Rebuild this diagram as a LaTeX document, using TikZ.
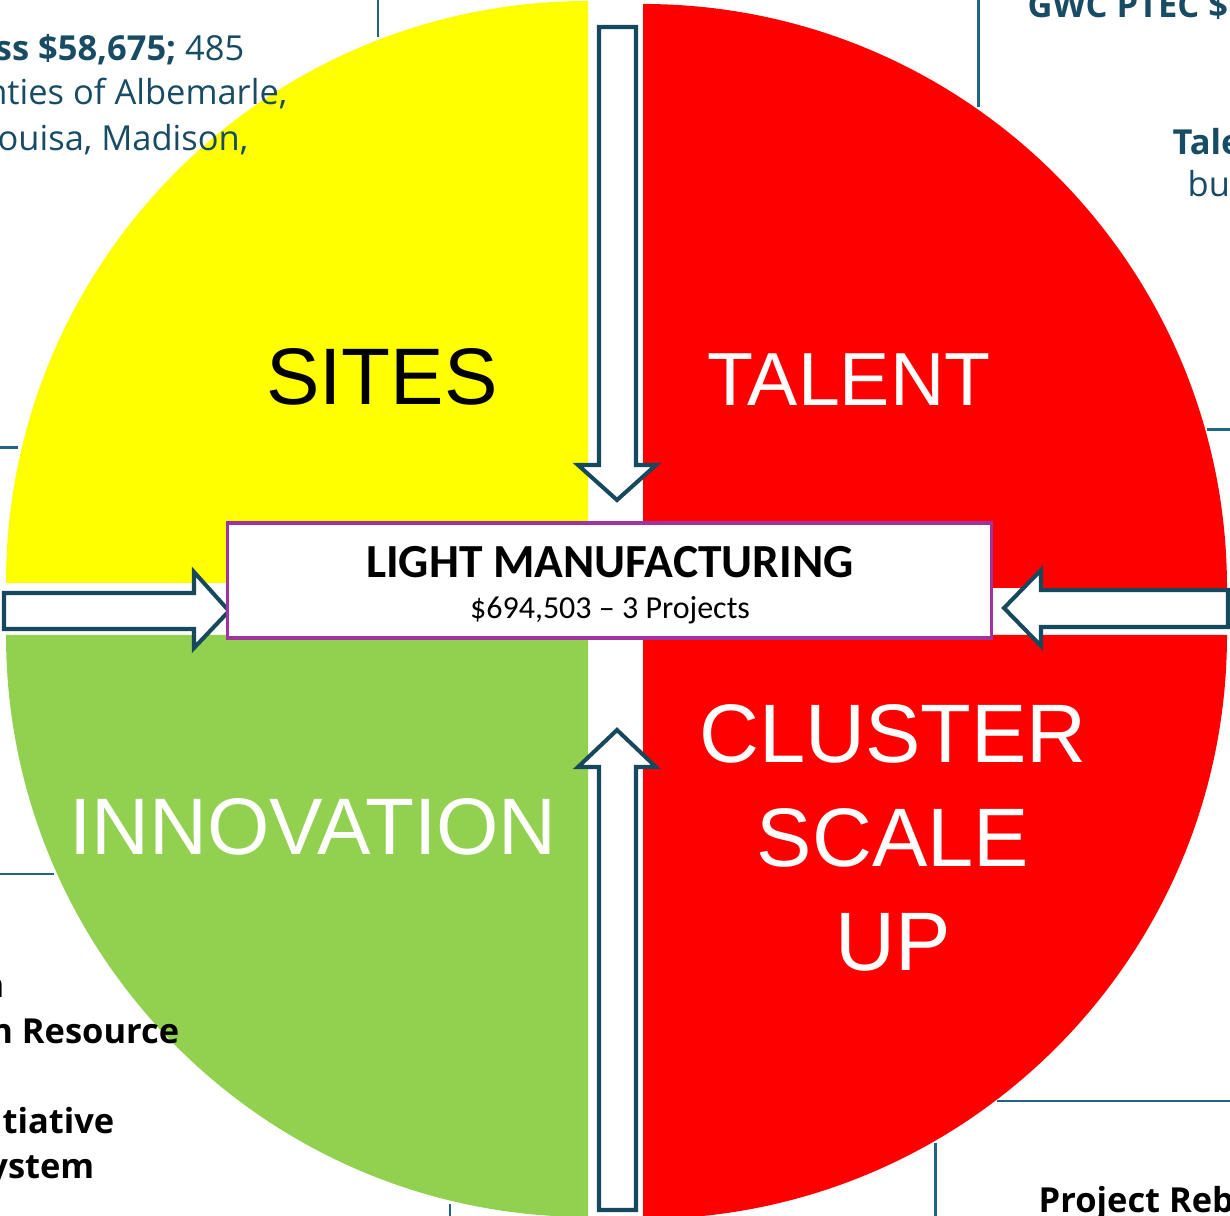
\documentclass[tikz,border=0pt]{standalone}
\usepackage{fontspec}
\setmainfont{Liberation Sans}
\newfontfamily\boxfont{Carlito}
\newfontfamily\slidefont{Open Sans}
\definecolor{sitesc}{RGB}{255,255,0}
\definecolor{talentc}{RGB}{255,0,0}
\definecolor{innovc}{RGB}{146,208,80}
\definecolor{arrowc}{RGB}{22,72,94}
\definecolor{framec}{RGB}{160,52,158}
\definecolor{linec}{RGB}{31,99,133}
\definecolor{slidec}{RGB}{24,75,100}
\tikzset{
    quad/.style={font=\fontsize{22.8}{29.6}\selectfont, align=center, inner sep=0pt},
    blockarrow/.style={draw=arrowc, fill=white, line width=1.15pt, miter limit=10},
    slidetext/.style={font=\slidefont\fontsize{9.8}{12}\selectfont, inner sep=0pt},
    slideline/.style={draw=linec, line width=0.85pt}
}

\begin{document}
\begin{tikzpicture}[x=0.01cm, y=-0.01cm]
        \useasboundingbox (0,0) rectangle (1230,1216);
        \clip (0,0) rectangle (1230,1216);

        \draw[slideline] (378,0) -- (378,37);
        \draw[slideline] (978,0) -- (978,107);
        \draw[slideline] (0,448) -- (18,448);
        \draw[slideline] (0,874) -- (54,874);
        \draw[slideline] (1207,430) -- (1230,430);
        \draw[slideline] (450,1204) -- (450,1216);
        \draw[slideline] (997,1101) -- (1230,1101);
        \draw[slideline] (935,1143) -- (935,1216);

        \fill[sitesc] (588,583) -- (6,583) arc[start angle=180, end angle=270, radius=582] -- cycle;
        \fill[talentc] (643,588) -- (643,4) arc[start angle=270, end angle=360, radius=584] -- cycle;
        \fill[innovc] (588,635) -- (588,1217) arc[start angle=90, end angle=180, radius=582] -- cycle;
        \fill[talentc] (643,635) -- (1227,635) arc[start angle=0, end angle=90, radius=584] -- cycle;

        \node[slidetext, text=slidec, anchor=base east] (tl1) at (245,61) {\textbf{ss \$58,675;} 485};
        \node[slidetext, text=slidec, anchor=base east] (tl2) at (288,105) {nties of Albemarle,};
        \node[slidetext, text=slidec, anchor=base east] (tl3) at (249,151) {ouisa, Madison,};
        \node[slidetext, text=slidec, anchor=base west] (tr1) at (1027,18) {\textbf{GWC PTEC \$}};
        \node[slidetext, text=slidec, anchor=base west] (tr2) at (1172,155) {\textbf{Tale}};
        \node[slidetext, text=slidec, anchor=base west] (tr3) at (1187,197) {bus};
        \node[slidetext, anchor=base east] (bl1) at (5,997) {\textbf{n}};
        \node[slidetext, anchor=base east] (bl2) at (180,1043) {\textbf{n Resource}};
        \node[slidetext, anchor=base east] (bl3) at (115,1133) {\textbf{itiative}};
        \node[slidetext, anchor=base east] (bl4) at (95,1178) {\textbf{ystem}};
        \node[slidetext, anchor=base west] (br1) at (1038,1212) {\textbf{Project Reb}};

        \node[quad, anchor=base] (sites) at (382,405) {SITES};
        \node[quad, text=white, anchor=base, font=\fontsize{21.4}{28}\selectfont] (talent) at (849,406) {TALENT};
        \node[quad, text=white, anchor=base] (innov) at (313,855) {INNOVATION};
        \node[quad, text=white, font=\fontsize{23.6}{29.6}\selectfont] (scale) at (893,838) {CLUSTER\\SCALE\\UP};

        \draw[blockarrow] (599,27) -- (636,27) -- (636,465) -- (656,465) -- (617,500)
            -- (578,465) -- (599,465) -- cycle;
        \draw[blockarrow] (599,1210) -- (636,1210) -- (636,767) -- (656,767) -- (617,730)
            -- (578,767) -- (599,767) -- cycle;
        \draw[blockarrow] (4,593) -- (194,593) -- (194,572) -- (229,611) -- (194,648)
            -- (194,629) -- (4,629) -- cycle;
        \draw[blockarrow] (1228,590) -- (1041,590) -- (1041,570) -- (1004,608) -- (1041,646)
            -- (1041,627) -- (1228,627) -- cycle;

        \node[draw=framec, fill=white, line width=0.9pt, minimum width=7.63cm,
            minimum height=1.15cm] (box) at (609.5,580.5) {};
        \node[font=\boxfont\bfseries\fontsize{13.5}{16}\selectfont, inner sep=0pt, anchor=base]
            (title) at (610,578) {LIGHT MANUFACTURING};
        \node[font=\boxfont\fontsize{9.1}{11}\selectfont, inner sep=0pt, anchor=base]
            (sub) at (610,619) {\$694,503 – 3 Projects};
\end{tikzpicture}
\end{document}
